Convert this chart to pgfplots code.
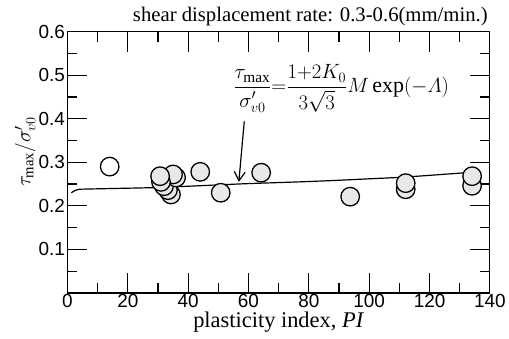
\documentclass[border=0pt]{standalone}
\usepackage{amsmath}
\usepackage{graphicx}
\usepackage{fontspec}
\setmainfont{Liberation Serif}
\setsansfont{Liberation Sans}
\usepackage{pgfplots}
\pgfplotsset{compat=1.18}
\usetikzlibrary{arrows.meta}
\pgfplotsset{major tick length=20pt, minor tick length=10pt}
\begin{document}
\begin{tikzpicture}
\begin{axis}[
  at={(0,0)}, anchor=south west,
  scale only axis, width=424pt, height=262.3pt,
  xmin=0, xmax=140, ymin=0, ymax=0.6,
  xtick={0,20,...,140}, ytick={0.1,0.2,...,0.6},
  minor xtick={10,30,...,130}, minor ytick={0.05,0.15,...,0.55},
  tick align=inside,
  axis line style={line width=1.2pt},
  every major tick/.append style={line width=1.2pt, black},
  every minor tick/.append style={line width=1.2pt, black},
  ticklabel style={font=\sffamily\fontsize{19pt}{21pt}\selectfont},
  /pgf/number format/assume math mode=true,
  yticklabel style={/pgf/number format/fixed, /pgf/number format/precision=1, /pgf/number format/fixed zerofill, xshift=1pt},
  xticklabel style={yshift=2pt},
  xlabel={plasticity index, \textit{PI}},
  xlabel style={font=\fontsize{22.5pt}{24pt}\selectfont, at={(axis description cs:0.5,0)}, anchor=base, yshift=-35pt},
  ylabel={$\tau_{\mathrm{max}}/\sigma'_{v0}$},
  ylabel style={font=\fontsize{21pt}{23pt}\selectfont, at={(axis description cs:-0.1,0.54)}, anchor=center},
  title={\resizebox{356pt}{!}{\fontsize{21pt}{23pt}\selectfont shear displacement rate: 0.3-0.6(mm/min.)}},
  title style={at={(axis description cs:1,1)}, anchor=base east, xshift=-2pt, yshift=3.7pt, inner sep=0pt},
  clip=false,
]
% tick marks (same lengths as the axis ticks)
\pgfplotsinvokeforeach{20,40,60,80,100,120}{
  \draw[line width=1.2pt] (axis cs:#1,0) -- ++(0pt,20pt);
  \draw[line width=1.2pt] (axis cs:#1,0.6) -- ++(0pt,-20pt);}
\pgfplotsinvokeforeach{10,30,50,70,90,110,130}{
  \draw[line width=1.2pt] (axis cs:#1,0) -- ++(0pt,10pt);
  \draw[line width=1.2pt] (axis cs:#1,0.6) -- ++(0pt,-10pt);}
\pgfplotsinvokeforeach{0.1,0.2,0.3,0.4,0.5}{
  \draw[line width=1.2pt] (axis cs:0,#1) -- ++(20pt,0pt);
  \draw[line width=1.2pt] (axis cs:140,#1) -- ++(-20pt,0pt);}
\pgfplotsinvokeforeach{0.05,0.15,0.25,0.35,0.45,0.55}{
  \draw[line width=1.2pt] (axis cs:0,#1) -- ++(10pt,0pt);
  \draw[line width=1.2pt] (axis cs:140,#1) -- ++(-10pt,0pt);}
\addplot[black, line width=1.2pt, smooth, tension=0.3] coordinates {
 (1.3,0.230) (2.5,0.235) (4,0.238) (10,0.239) (30,0.242) (50,0.248) (60,0.251)
 (77,0.255) (88,0.258) (100,0.262) (112,0.266) (134,0.277)};
\addplot[only marks, mark=*, mark size=9.3pt, mark options={fill=white, draw=black, line width=1.3pt}] coordinates {(14,0.29)};
\addplot[only marks, mark=*, mark size=9.3pt, mark options={fill=black!9, draw=black, line width=1.3pt}] coordinates {
 (34.3,0.226) (33.3,0.236) (32.0,0.245) (36.0,0.265) (35.0,0.272) (31.0,0.255) (30.7,0.268)
 (44,0.278) (50.8,0.230) (64.2,0.276) (93.7,0.221) (112.1,0.238) (112.1,0.252) (134.1,0.246) (134.1,0.268)};
\draw[line width=1.2pt, -{Straight Barb[length=9pt,width=11pt,line width=1.2pt]}] (axis cs:58.6,0.394) -- (axis cs:56.8,0.255);
\node[font=\fontsize{22pt}{24pt}\selectfont] at (axis cs:90.7,0.469)
 {$\dfrac{\tau_{\mathrm{max}}}{\sigma'_{v0}}{=}\dfrac{1{+}2K_0}{3\sqrt{3}}M\exp({-}\varLambda)$};
\end{axis}
\path[use as bounding box] (-67.7pt,-46pt) rectangle (441.3pt,294pt);
\end{tikzpicture}
\end{document}
